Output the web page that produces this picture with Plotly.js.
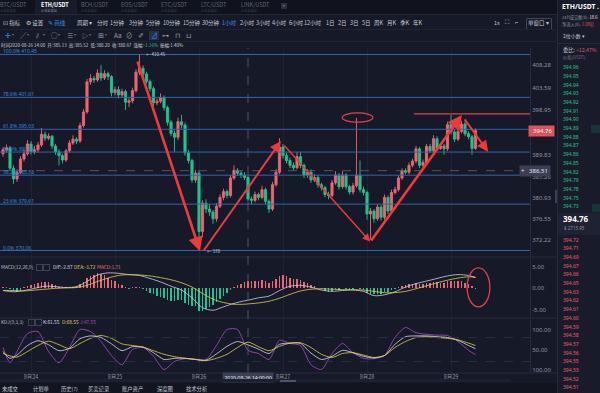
<!DOCTYPE html>
<html><head><meta charset="utf-8">
<script src="https://cdn.plot.ly/plotly-3.0.1.min.js"></script>
<style>
html,body{margin:0;padding:0;background:#161a28;width:600px;height:393px;overflow:hidden;font-family:"Noto Sans CJK SC","Noto Sans",sans-serif;}
#chart{position:absolute;left:0;top:0;width:600px;height:393px;}
.ov{position:absolute;white-space:nowrap;line-height:1.15;pointer-events:none;}
.blk{position:absolute;pointer-events:none;}
</style></head><body>
<div id="chart"></div>
<div id="chrome"></div>
<script>
// ---------------- data ----------------
const open = [390.0,390.8,391.2,387.0,384.8,386.2,388.9,390.0,392.0,390.4, 390.8,391.8,394.0,393.2,393.6,391.6,390.4,389.6,388.7,390.6, 392.2,393.0,392.6,395.8,398.6,404.8,405.5,405.2,406.6,405.6, 406.5,405.9,402.6,403.2,402.1,402.8,400.6,400.9,403.0,406.8, 407.6,406.4,404.9,403.4,400.5,400.8,401.6,399.5,396.5,394.2, 393.4,396.6,395.9,390.2,388.6,384.6,386.0,374.0,379.8,378.6, 378.0,376.6,379.2,381.0,382.2,381.4,385.0,386.6,386.0,385.6, 385.13,380.67,380.4,381.6,381.0,382.6,380.2,378.6,383.6,386.2, 391.4,389.6,388.6,387.6,387.1,389.4,387.6,385.6,386.2,384.6, 385.1,383.6,383.0,381.6,381.4,384.0,385.6,383.2,385.6,383.2, 382.1,383.4,385.6,382.6,382.0,377.6,378.2,376.6,379.0,376.9, 381.0,378.2,382.0,382.6,385.0,386.5,386.2,387.6,388.5,391.0, 387.6,388.2,391.5,390.6,393.1,391.1,391.6,391.0,396.0,394.5, 393.0,394.6,396.1,394.1,393.5,391.1];
const high = [391.3,391.9,391.6,387.6,386.8,389.5,390.8,392.8,392.6,391.6, 392.4,395.3,394.6,394.2,393.9,392.0,390.9,390.0,391.0,392.8, 393.8,393.4,396.4,399.2,405.4,406.4,406.0,407.4,408.3,407.2, 406.9,406.2,403.8,403.9,403.4,403.2,401.6,403.6,407.4,410.45, 408.2,406.9,405.3,403.8,401.4,402.4,402.0,399.9,396.9,394.8, 397.4,398.0,396.4,390.8,389.0,386.6,386.4,380.4,380.6,379.6, 378.4,379.8,381.6,382.8,382.6,385.6,387.6,387.0,386.4,386.2, 385.52,381.2,382.2,382.0,383.4,383.0,380.6,384.2,386.8,393.2, 392.0,390.2,389.2,388.2,390.4,390.4,388.0,386.8,386.8,385.8, 385.5,384.0,383.4,382.2,384.6,386.4,386.0,386.4,386.0,383.6, 384.0,397.4,388.6,383.2,382.4,378.8,378.6,379.6,379.4,381.6, 381.4,382.6,383.2,385.6,387.0,387.0,388.2,389.0,391.6,391.4, 388.8,392.0,392.0,393.8,393.6,392.2,392.0,396.6,398.0,395.0, 395.2,396.8,396.6,394.6,393.9,395.2];
const low = [389.4,390.2,386.4,383.8,384.2,385.8,388.4,389.6,389.8,389.9, 390.2,391.4,392.6,392.8,391.0,389.8,387.6,388.0,388.3,390.2, 391.8,392.0,392.2,395.4,398.2,404.2,404.6,404.8,405.0,405.2, 405.2,401.8,402.0,401.4,401.6,399.0,399.6,400.4,402.6,406.2, 405.8,404.4,402.8,399.8,400.0,400.4,398.9,395.8,393.6,390.4, 392.8,395.2,389.6,388.0,384.0,384.0,370.06,372.8,377.8,377.2, 375.6,376.0,378.8,380.4,380.8,381.0,384.6,385.4,385.0,384.6, 380.20,379.6,380.0,380.4,380.6,379.6,377.8,378.2,383.2,385.8, 389.0,388.0,387.0,386.6,386.8,387.0,385.0,385.0,384.0,384.2, 383.0,382.4,381.0,380.6,381.0,383.6,382.6,382.8,382.6,381.6, 381.6,383.0,382.0,381.4,376.4,372.2,375.8,376.2,376.2,376.4, 377.6,377.8,381.6,382.2,384.6,385.8,385.8,387.2,388.0,387.0, 387.2,387.8,390.2,390.2,390.6,390.8,389.8,390.6,394.0,392.4, 392.6,394.2,393.6,393.0,389.8,390.8];
const close = [390.8,391.2,387.0,384.8,386.2,388.9,390.0,392.0,390.4,390.8, 391.8,394.0,393.2,393.6,391.6,390.4,389.6,388.7,390.6,392.2, 393.0,392.6,395.8,398.6,404.8,405.5,405.2,406.6,405.6,406.5, 405.9,402.6,403.2,402.1,402.8,400.6,400.9,403.0,406.8,407.6, 406.4,404.9,403.4,400.5,400.8,401.6,399.5,396.5,394.2,393.4, 396.6,395.9,390.2,388.6,384.6,386.0,374.0,379.8,378.6,378.0, 376.6,379.2,381.0,382.2,381.4,385.0,386.6,386.0,385.6,385.13, 380.67,380.4,381.6,381.0,382.6,380.2,378.6,383.6,386.2,391.4, 389.6,388.6,387.6,387.1,389.4,387.6,385.6,386.2,384.6,385.1, 383.6,383.0,381.6,381.4,384.0,385.6,383.2,385.6,383.2,382.1, 383.4,385.6,382.6,382.0,377.6,378.2,376.6,379.0,376.9,381.0, 378.2,382.0,382.6,385.0,386.5,386.2,387.6,388.5,391.0,387.6, 388.2,391.5,390.6,393.1,391.1,391.6,391.0,396.0,394.5,393.0, 394.6,396.1,394.1,393.5,391.1,394.76];

const macdHist = [0.3,0.2,-0.3,-0.8,-1.0,-0.7,0.2,0.5,0.6,0.8, 1.1,1.3,1.4,1.3,1.0,0.6,0.3,0.2,0.3,0.3, 0.3,0.4,0.8,1.3,2.3,2.8,3.1,3.4,3.3,2.9, 2.4,1.9,1.5,1.0,0.6,0.2,-0.2,0.2,0.3,0.3, -0.3,-0.7,-1.1,-1.5,-1.8,-2.1,-2.4,-2.8,-3.0,-3.0, -2.8,-2.9,-3.5,-3.9,-4.3,-4.2,-5.3,-5.4,-5.0,-4.5, -4.0,-3.3,-2.5,-1.8,-1.2,-0.4,0.2,0.6,1.0,1.4, 1.71,1.6,1.7,1.7,1.8,1.5,1.2,1.6,2.1,2.8, 2.9,2.7,2.4,2.1,2.1,1.8,1.3,1.1,0.7,0.5, 0.1,-0.3,-0.7,-0.9,-0.6,-0.3,-0.4,-0.1,-0.3,-0.4, -0.3,0.1,-0.2,-0.4,-1.2,-1.4,-1.5,-1.3,-1.3,-0.9, -0.9,-0.5,-0.2,0.2,0.5,0.6,0.8,0.9,1.2,1.0, 1.0,1.2,1.2,1.4,1.3,1.2,1.1,1.6,1.7,1.5, 1.5,1.5,1.2,0.9,0.4,-0.2];
const macdIdx = [0,3,6,9,12,15,18,21,24,27,30,33,36,39,42,45,48,51,54,57,60,63,66,69,70,73,76,79,82,85,88,91,94,97,100,103,106,109,112,115,118,121,124,127,130,133,135];
const dif = [-0.6,-0.9,-0.6,-0.1,0.4,0.3,0.1,0.3,1.5,3.0, 3.5,3.4,3.1,2.9,2.2,1.4,0.4,-0.5,-2.3,-4.6, -5.2,-4.4,-3.6,-3.0,-2.87,-2.3,-1.9,-0.6,0.4,0.6, 0.2,-0.5,-0.8,-0.6,-0.5,-0.8,-1.8,-1.6,-0.9,0.2, 1.0,1.6,2.2,2.8,3.1,2.9,2.4];
const dea = [-0.6,-0.6,-0.7,-0.5,-0.3,-0.1,0.0,0.1,0.6,1.5, 2.3,2.9,3.1,3.0,2.8,2.4,1.9,1.2,0.2,-1.3, -2.6,-3.4,-3.8,-3.8,-3.72,-3.5,-3.1,-2.4,-1.5,-0.7, -0.3,-0.2,-0.3,-0.4,-0.4,-0.5,-0.8,-1.1,-1.1,-0.8, -0.2,0.5,1.2,1.8,2.3,2.6,2.5];

const kdjIdx = [0,2,4,7,10,13,16,19,22,25,28,31,34,37,40,43,46,49,52,55,58,61,64,67,70,73,76,79,82,85,88,91,94,97,100,103,106,109,112,115,118,121,124,127,130,133,135];
const kLine = [45,28,36,60,72,62,47,53,77,84, 80,64,47,57,56,42,25,28,28,25, 23,39,58,70,61.55,51,40,63,66,65, 41,25,33,48,42,33,29,35,63,82, 84,84,82,80,73,60,52];
const dLine = [40,34,31,45,60,71,62,52,65,78, 85,78,64,60,56,47,38,32,28,25, 22,28,38,55,68.55,57,47,58,66,67, 55,38,30,40,42,36,30,35,55,70, 80,82,80,78,74,66,60];
const jLine = [55,17,45,90,95,45,17,55,100,95, 70,35,12,50,55,33,0,20,27,26, 25,60,100,100,47.55,40,25,73,65,60, 12,0,40,65,42,28,27,35,80,105, 92,88,86,85,70,48,37];

const dayTickIdx = [8,32,56,80,104,128];
const dayLabels = ['8月24','8月25','8月26','8月27','8月28','8月29'];
const priceTicks = [408.28,403.59,398.95,389.83,385.26,380.93,376.55,372.22];
const fibLevels = [410.45,401.61,395.03,390.34,385.58,379.61,370.06];
const fibNames = ['100.0%','78.6%','61.8%','50.0%','38.2%','23.6%','0.0%'];
const lastPrice = 394.76;
const crossIdx = 70, crossPrice = 386.51, crossTime = '2020-08-26 14:00:00';
const arrowsFrom = [[38.3,409.3],[57.1,369.8],[80.0,392.0],[104.9,371.8],[131.6,397.4]];
const arrowsTo   = [[56.3,369.9],[79.4,392.6],[104.9,371.9],[131.1,398.0],[138.6,390.4]];
const arrowsW = [2.6,2,1.4,2.6,2];
const asks = ['394.96','394.95','394.94','394.93','394.92','394.91','394.90','394.89','394.88','394.87','394.86','394.85','394.82','394.79','394.78','394.75','394.73'];
const bids = ['394.72','394.71','394.69','394.67','394.66','394.65','394.63','394.62','394.61','394.60','394.59','394.58','394.57','394.56','394.55','394.53','394.52','394.51'];
const tabs = ['BTC/USDT','ETH/USDT','BCH/USDT','EOS/USDT','ETC/USDT','LTC/USDT','LINK/USDT'];
const periods = ['分时','1分钟','3分钟','5分钟','10分钟','15分钟','30分钟','1小时','2小时','3小时','4小时','6小时','12小时','1日','2日','3日','5日','周K','月K','季K','年K'];
const bottomTabs = ['未成交','计划单','历史(?)','买卖记录','账户资产','深度图','技术分析'];

// ---------------- chart ----------------
const UP = '#ec6670', DOWN = '#1fc38e';
const hours = open.map((_, i) => i);
const W = 600, H = 393;
const py = p => 1 - p / H;   // pixel-y to paper fraction
const px = p => p / W;
const plotRight = px(530);

const traces = [
  {type:'candlestick', x:hours, open, high, low, close, xaxis:'x', yaxis:'y',
   increasing:{line:{color:UP,width:0.9},fillcolor:UP}, decreasing:{line:{color:DOWN,width:0.9},fillcolor:DOWN},
   whiskerwidth:0, hoverinfo:'skip'},
  {type:'bar', x:hours, y:macdHist, xaxis:'x', yaxis:'y2', width:0.5,
   marker:{color:macdHist.map(v => v >= 0 ? UP : DOWN), line:{width:0}}, hoverinfo:'skip'},
  {type:'scatter', mode:'lines', x:macdIdx, y:dif, xaxis:'x', yaxis:'y2', line:{color:'#cfd3de',width:0.8,shape:'spline',smoothing:0.8}, hoverinfo:'skip'},
  {type:'scatter', mode:'lines', x:macdIdx, y:dea, xaxis:'x', yaxis:'y2', line:{color:'#e2cf4e',width:0.8,shape:'spline',smoothing:0.8}, hoverinfo:'skip'},
  {type:'scatter', mode:'lines', x:kdjIdx, y:jLine, xaxis:'x', yaxis:'y3', line:{color:'#b04cc4',width:0.8,shape:'spline',smoothing:0.7}, hoverinfo:'skip'},
  {type:'scatter', mode:'lines', x:kdjIdx, y:kLine, xaxis:'x', yaxis:'y3', line:{color:'#d9dce6',width:0.8,shape:'spline',smoothing:0.7}, hoverinfo:'skip'},
  {type:'scatter', mode:'lines', x:kdjIdx, y:dLine, xaxis:'x', yaxis:'y3', line:{color:'#e2cf4e',width:0.8,shape:'spline',smoothing:0.7}, hoverinfo:'skip'}
];

const axisFont = {size:6, color:'#8c92a4', family:'"Noto Sans","DejaVu Sans",sans-serif'};
const shapes = [];
fibLevels.forEach(v => shapes.push({type:'line', xref:'paper', x0:0, x1:plotRight, yref:'y', y0:v, y1:v, line:{color:'#2f66ad', width:1}}));
[80,20].forEach(v => shapes.push({type:'line', xref:'paper', x0:0, x1:plotRight, yref:'y3', y0:v, y1:v, line:{color:'#2d3347', width:0.8, dash:'dash'}}));
[257,318,373].forEach(p => shapes.push({type:'line', xref:'paper', x0:0, x1:px(557), yref:'paper', y0:py(p), y1:py(p), line:{color:'#262b3c', width:1}}));
shapes.push({type:'line', xref:'x', x0:crossIdx, x1:crossIdx, yref:'paper', y0:py(373), y1:py(48), line:{color:'#5d6378', width:0.8, dash:'dash'}});
shapes.push({type:'line', xref:'paper', x0:0, x1:px(520), yref:'y', y0:crossPrice, y1:crossPrice, line:{color:'#5d6378', width:0.8, dash:'dash'}});
shapes.push({type:'line', xref:'x', x0:117.4, x1:151, yref:'y', y0:398.19, y1:398.19, line:{color:'#e3404a', width:1.3}});
shapes.push({type:'circle', xref:'x', x0:96.9, x1:105.7, yref:'y', y0:396.5, y1:398.4, line:{color:'#e3404a', width:1.2}});
shapes.push({type:'circle', xref:'x', x0:132.6, x1:139.1, yref:'y2', y0:-4.4, y1:4.65, line:{color:'#e3404a', width:1.3}});

const annotations = [];
fibLevels.forEach((v,i) => annotations.push({xref:'paper', x:0.001, yref:'y', y:v, xanchor:'left', yanchor:'bottom', showarrow:false,
  text:fibNames[i] + ' ' + v.toFixed(2), font:{size:5, color:'#3f82d8', family:'"Noto Sans",sans-serif'}, yshift:-2}));
arrowsFrom.forEach((f,i) => annotations.push({xref:'x', yref:'y', axref:'x', ayref:'y', x:arrowsTo[i][0], y:arrowsTo[i][1], ax:f[0], ay:f[1],
  text:'', showarrow:true, arrowhead:2, arrowsize:1.1, arrowwidth:arrowsW[i], arrowcolor:'#f03a3a'}));
annotations.push({xref:'x', yref:'y', x:40.3, y:410.45, xanchor:'left', yanchor:'middle', showarrow:false, text:'← 410.45', font:{size:4.5, color:'#c9cdd8'}});
annotations.push({xref:'x', yref:'y', x:57.6, y:370.06, xanchor:'left', yanchor:'middle', showarrow:false, text:'← 370', font:{size:4.5, color:'#c9cdd8'}});
annotations.push({xref:'paper', x:px(528), yref:'y', y:lastPrice, xanchor:'left', yanchor:'middle', showarrow:false, text:'  ' + lastPrice.toFixed(2) + ' ',
  bgcolor:'#df535d', borderpad:1, font:{size:6, color:'#ffffff', family:'"Noto Sans",sans-serif'}});
annotations.push({xref:'paper', x:px(519), yref:'y', y:crossPrice, xanchor:'left', yanchor:'middle', showarrow:false, text:'+   ' + crossPrice.toFixed(2) + ' ',
  bgcolor:'#3a3f54', borderpad:1, font:{size:6, color:'#e6e8ee', family:'"Noto Sans",sans-serif'}});
annotations.push({xref:'x', x:crossIdx, yref:'paper', y:py(377), xanchor:'center', yanchor:'middle', showarrow:false, text:crossTime,
  bgcolor:'#3a3f54', borderpad:1.5, font:{size:5, color:'#e6e8ee', family:'"Noto Sans",sans-serif'}});

const layout = {
  width:W, height:H, margin:{l:0,r:0,t:0,b:0}, paper_bgcolor:'#161a28', plot_bgcolor:'#161a28',
  showlegend:false, dragmode:false, bargap:0, boxgap:0.12,
  font:{family:'"Noto Sans CJK SC","Noto Sans",sans-serif', size:6, color:'#8c92a4'},
  xaxis:{domain:[0,plotRight], range:[-0.857,150.57], anchor:'y3', tickvals:dayTickIdx, ticktext:dayLabels, ticks:'',
    showgrid:true, gridcolor:'#1e2334', gridwidth:1, zeroline:false, showline:false, tickfont:{size:5.5,color:'#8c92a4'},
    rangeslider:{visible:false}, fixedrange:true},
  yaxis:{domain:[py(256),py(48)], range:[368.93,411.78], side:'right', anchor:'x', tickvals:priceTicks, ticktext:priceTicks.map(v=>v.toFixed(2)),
    showgrid:false, zeroline:false, showline:true, linecolor:'#262b3c', ticks:'', tickfont:axisFont, fixedrange:true},
  yaxis2:{domain:[py(318),py(257)], range:[-7.0,7.2], side:'right', anchor:'x', tickvals:[5,0,-5], ticktext:['5.00','0.00','-5.00'],
    showgrid:false, zeroline:false, showline:true, linecolor:'#262b3c', ticks:'', tickfont:axisFont, fixedrange:true},
  yaxis3:{domain:[py(372),py(319)], range:[-6.25,126.25], side:'right', anchor:'x', tickvals:[100,50,0], ticktext:['100.00','50.00','100.00'],
    showgrid:false, zeroline:false, showline:true, linecolor:'#262b3c', ticks:'', tickfont:axisFont, fixedrange:true},
  shapes, annotations
};
Plotly.newPlot('chart', traces, layout, {staticPlot:true, displayModeBar:false});

// ---------------- chrome (html text) ----------------
const root = document.getElementById('chrome');
function box(x,y,w,h,bg,extra){const d=document.createElement('div');d.className='blk';d.style.cssText=`left:${x}px;top:${y}px;width:${w}px;height:${h}px;background:${bg};`+(extra||'');root.appendChild(d);return d;}
function txt(s,x,y,size,color,extra){const d=document.createElement('div');d.className='ov';d.style.cssText=`left:${x}px;top:${y}px;font-size:${size}px;color:${color};`+(extra||'');d.innerHTML=s;root.appendChild(d);return d;}

// top tab row
box(0,0,600,14,'#10131d');
box(35,0,42,14,'#181c2a');
box(0,14,557,1,'#232838');
const tabX = [0,41,81,121,161,201,241];
tabs.forEach((t,i)=>{
  const act = i===1;
  txt(t,tabX[i],1.5,5.5,act?'#ffffff':'#5d6376',act?'font-weight:bold;':'');
  txt('火币全球站',tabX[i],8.5,3.2,act?'#8d93a5':'#3f4456');
});
box(281,3,6,6,'#2a2f40');
txt('+',282.2,2.5,5.5,'#8d93a5');

// toolbar row
txt('⊡ 指标',3,19.5,5.5,'#c5cad6');
txt('⚙ 设置',26,19.5,5.5,'#c5cad6');
txt('✎ 画线',48,19.5,5.5,'#3d8ff0');
txt('周期 ▾',77,19.5,5.5,'#c5cad6');
const perX = [97,110,129,146,163,183,202,222,240,256,272,289,304,326,338,350,362,374,387,400,413];
periods.forEach((p,i)=>txt(p,perX[i],19.5,5.5,p==='1小时'?'#3d8ff0':'#c5cad6'));
txt('1s',494,19.5,5.5,'#c5cad6');
txt('⛶',505,19,6,'#c5cad6');
txt('⌐',515,19,6,'#c5cad6');
box(526,17.5,24,10,'transparent','border:0.8px solid #3e4660;border-radius:1px;');
txt('单窗口 ▾',528,19.5,5.5,'#c5cad6');
box(0,29,557,1,'#1f2433');

// drawing tools row
const tools = [['✛',5,'#3d8ff0'],['▾',12,'#6d7386'],['╱',20,'#9aa0b0'],['▾',27,'#6d7386'],['⫽',36,'#9aa0b0'],['▾',43,'#6d7386'],['◯',51,'#9aa0b0'],['▾',58,'#6d7386'],
  ['≡',67,'#9aa0b0'],['▾',74,'#6d7386'],['▷',82,'#9aa0b0'],['▾',89,'#6d7386'],['⊞',98,'#9aa0b0'],['▾',105,'#6d7386'],['Aa',114,'#9aa0b0'],['⊘',126,'#9aa0b0'],
  ['✐',138,'#9aa0b0'],['⊿',151,'#3d8ff0'],['⊶',162,'#9aa0b0'],['⊓',175,'#9aa0b0'],['⊔',186,'#9aa0b0']];
box(149,31,10,9,'#20304d');
tools.forEach(t=>txt(t[0],t[1],31.5,t[0]==='▾'?4:6.5,t[2]));
box(0,41,557,1,'#1f2433');

// info row
txt('时间2020-08-26 14:00 &nbsp;开:385.13 &nbsp;高:385.52 &nbsp;低:380.20 &nbsp;收:380.67 &nbsp;涨幅:<span style="color:#1fc38e">-1.16%</span> &nbsp;振幅:1.40%',1,42.5,4.5,'#c9cdd8');

// MACD / KDJ labels
txt('MACD(12,26,9)',1,264,4.8,'#b9bfcc');
box(36,264,5,5,'transparent','border:0.6px solid #3b4156;'); box(43,264,5,5,'transparent','border:0.6px solid #3b4156;');
txt('DIF:-2.87',53,264,4.8,'#d6d9e2'); txt('DEA:-3.72',74,264,4.8,'#e2cf4e'); txt('MACD:1.71',97,264,4.8,'#e0707c');
txt('KDJ(9,3,3)',1,319,4.8,'#b9bfcc');
box(28,319,5,5,'transparent','border:0.6px solid #3b4156;'); box(35,319,5,5,'transparent','border:0.6px solid #3b4156;');
txt('K:61.55',43,319,4.8,'#d6d9e2'); txt('D:68.55',62,319,4.8,'#e2cf4e'); txt('J:47.55',80,319,4.8,'#b04cc4');

// bottom scroll and tabs
box(0,379,510,3,'#1c2131'); box(280,379.5,16,2,'#4a5170');
box(0,383,557,10,'#12151f');
const btX = [2,33,61,88,122,157,186];
bottomTabs.forEach((t,i)=>txt(t,btX[i],385.5,5.3,'#c3c8d4'));
box(555,190,2,13,'#3a4058');

// right panel
box(557,0,43,393,'#181c2a','border-left:1px solid #262b3c;box-sizing:border-box;');
txt('ETH/USDT .',562,2.5,6.8,'#ffffff','font-weight:bold;font-family:"Noto Sans",sans-serif;');
txt('24H成交额(¥): <span style="color:#e6e8ee">18.6</span>',562,14.5,4.2,'#8b90a0');
txt('净流入(¥): <span style="color:#ef4f5a">1.08亿</span>',562,21.5,4.2,'#8b90a0');
txt('2位小数 ▾',563,33,5,'#c3c8d4');
box(558,43,42,1,'#262b3c');
txt('委比: <span style="color:#ef4f5a">+12.47%</span>',563,46.5,5.2,'#c3c8d4');
txt('价格(USDT)',563,55,4.3,'#6f7587');
box(591,125,9,8,'rgba(31,195,142,0.14)');
box(592,204,8,8,'rgba(31,195,142,0.14)');
asks.forEach((a,i)=>txt(a,563,68.3+8.7*i-3.2,5,'#27c28a','font-family:"Noto Sans",sans-serif;'));
box(558,213,42,22,'#1e2232');
txt('394.76',563,214,8,'#ffffff','font-weight:bold;font-family:"Noto Sans",sans-serif;');
txt('¥ 2715.95',564,226,4.5,'#8b90a0','font-family:"Noto Sans",sans-serif;');
bids.forEach((b,i)=>txt(b,563,240.7+8.7*i-3.2,5,'#ec5d68','font-family:"Noto Sans",sans-serif;'));
</script>
</body></html>
